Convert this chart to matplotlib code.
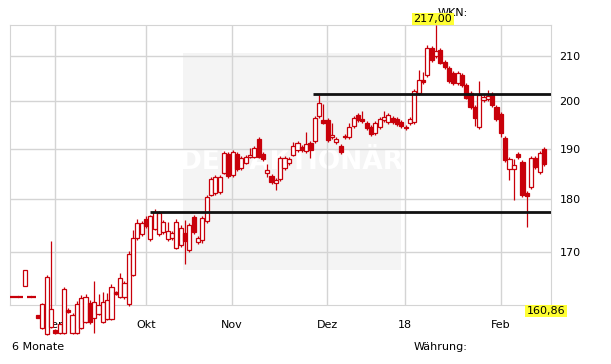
import matplotlib
matplotlib.use('Agg')

import matplotlib.pyplot as plt
from matplotlib.patches import Rectangle
from matplotlib.ticker import FixedLocator, FixedFormatter, NullLocator

RED = '#c8000a'
GRID = '#d4d4d4'

# daily candles, about six months, one entry per trading day
opens = [161.9, 161.9, 161.9, 164.0, 161.9, 161.9, 158.9, 156.7, 155.7, 156.9,
         156.3, 155.8, 155.8, 159.8, 155.8, 155.8, 156.7, 157.7, 161.0, 158.4,
         159.1, 157.7, 158.2, 158.2, 162.9, 162.0, 162.0, 160.8, 165.9, 172.6,
         173.3, 176.2, 172.4, 174.3, 173.3, 173.7, 172.4, 172.6, 170.8, 171.3,
         173.5, 170.4, 176.6, 171.9, 172.2, 175.8, 180.8, 181.1, 181.3, 185.1,
         188.9, 184.7, 188.9, 186.1, 187.1, 188.3, 188.3, 192.0, 188.9, 185.1,
         184.5, 183.1, 183.9, 186.1, 187.1, 188.7, 189.7, 190.4, 189.5, 191.2,
         191.6, 196.8, 196.0, 196.0, 192.4, 191.4, 190.6, 192.6, 192.4, 194.7,
         197.0, 196.2, 195.3, 194.5, 193.2, 194.5, 196.0, 195.5, 196.4, 196.2,
         195.5, 194.5, 195.3, 195.5, 201.7, 204.6, 205.7, 211.7, 209.9, 211.3,
         208.6, 207.2, 206.1, 203.9, 205.7, 203.5, 201.7, 198.7, 194.5, 200.2,
         200.4, 201.5, 198.7, 197.2, 192.2, 185.9, 185.9, 188.9, 187.3, 181.2,
         182.3, 188.1, 185.3, 189.9]
highs = [161.9, 161.9, 161.9, 166.8, 161.9, 161.9, 158.9, 161.0, 165.8, 172.0,
         156.5, 157.6, 163.8, 160.0, 159.2, 161.3, 162.3, 162.5, 161.4, 164.8,
         162.5, 162.9, 162.7, 164.2, 163.1, 166.2, 164.8, 170.2, 174.1, 176.2,
         175.8, 176.7, 177.0, 178.1, 177.7, 176.0, 175.6, 173.9, 176.2, 175.0,
         176.0, 175.4, 177.0, 173.0, 176.8, 180.8, 184.3, 184.7, 184.7, 189.5,
         189.3, 189.7, 189.3, 188.5, 188.7, 190.1, 190.5, 192.4, 189.3, 186.9,
         184.9, 184.1, 188.5, 188.5, 188.3, 191.4, 191.6, 190.8, 193.4, 191.6,
         196.8, 201.3, 199.4, 196.4, 195.3, 192.4, 191.0, 193.0, 195.3, 196.8,
         197.4, 197.9, 195.7, 194.9, 195.7, 196.6, 197.9, 197.4, 196.8, 196.6,
         195.9, 194.9, 196.6, 202.6, 206.8, 206.3, 212.4, 212.1, 217.0, 211.7,
         209.0, 207.6, 206.5, 206.5, 206.1, 203.9, 202.1, 199.1, 204.3, 201.3,
         202.4, 201.9, 199.1, 197.6, 192.6, 188.3, 187.9, 189.3, 187.7, 181.6,
         188.5, 188.5, 189.5, 190.3]
lows = [161.9, 161.9, 161.9, 164.0, 161.9, 161.9, 158.4, 156.5, 155.5, 156.7,
        155.7, 155.6, 155.6, 159.2, 155.6, 155.6, 156.5, 157.5, 157.4, 155.8,
        158.9, 157.5, 158.0, 158.0, 162.3, 161.8, 161.7, 160.5, 165.6, 172.3,
        173.0, 174.5, 172.0, 174.0, 173.0, 173.4, 172.1, 172.2, 170.5, 171.0,
        167.8, 170.0, 173.4, 171.5, 171.7, 175.4, 180.5, 180.7, 181.0, 184.8,
        184.1, 184.3, 185.5, 185.7, 186.8, 188.1, 188.0, 188.0, 187.5, 184.3,
        182.9, 181.7, 183.5, 185.7, 186.7, 188.4, 189.4, 189.4, 189.1, 188.1,
        191.2, 196.4, 195.0, 191.4, 192.0, 191.0, 189.0, 192.0, 192.0, 194.3,
        195.6, 195.4, 193.9, 192.6, 192.8, 194.1, 195.6, 195.1, 195.1, 194.7,
        194.3, 193.9, 194.9, 195.1, 201.3, 203.7, 205.3, 208.6, 209.5, 208.0,
        207.0, 203.9, 203.5, 203.5, 203.1, 200.3, 198.3, 194.7, 194.1, 199.8,
        200.0, 198.7, 195.8, 192.4, 187.3, 183.7, 179.8, 187.9, 180.4, 174.7,
        181.9, 185.9, 184.9, 186.5]
closes = [161.9, 161.9, 161.9, 166.8, 161.9, 161.9, 158.4, 160.8, 165.5, 159.9,
          155.8, 157.4, 163.4, 159.4, 158.9, 160.8, 161.8, 162.0, 157.7, 161.1,
          160.6, 161.1, 161.5, 163.7, 162.5, 165.3, 164.4, 169.7, 172.6, 175.4,
          175.4, 174.8, 176.7, 177.5, 177.3, 175.6, 173.9, 173.5, 175.6, 174.5,
          172.0, 175.0, 173.7, 172.6, 176.4, 180.4, 183.9, 184.3, 184.3, 189.1,
          184.5, 189.3, 185.9, 188.1, 188.3, 188.7, 190.1, 188.3, 187.9, 185.7,
          183.3, 183.7, 188.1, 188.1, 187.9, 190.6, 191.2, 189.7, 191.0, 189.7,
          196.4, 199.6, 195.3, 191.8, 192.8, 192.0, 189.3, 192.4, 194.5, 196.4,
          196.0, 195.8, 194.3, 193.0, 195.3, 196.2, 196.6, 197.0, 195.5, 195.1,
          194.7, 194.3, 196.2, 202.2, 204.6, 204.1, 211.7, 209.0, 211.0, 208.4,
          207.4, 204.3, 203.9, 206.1, 203.5, 200.7, 198.7, 196.4, 201.3, 200.9,
          201.1, 199.1, 196.2, 193.2, 187.7, 187.9, 186.7, 188.3, 180.8, 180.6,
          188.1, 186.3, 189.1, 186.9]

# month starts, in trading-day index
month_pos = [9.94, 30.98, 50.87, 72.83, 90.87, 113.06]
month_labels = ['Sep', 'Okt', 'Nov', 'Dez', '18', 'Feb']
price_ticks = [170, 180, 190, 200, 210]

# drawn support / resistance levels and the day they start
levels = [177.5, 201.5]
level_start = [31.9, 69.6]

y_low = 160.86
y_high = 217.00

fig = plt.figure(figsize=(6.11, 3.64), dpi=100)
ax = fig.add_axes([10 / 611, 59 / 364, 541 / 611, 280 / 364])

ax.set_yscale('log')
ax.set_ylim(160.6, y_high)
ax.set_xlim(-0.46, 124.6)

ax.yaxis.set_major_locator(FixedLocator(price_ticks))
ax.yaxis.set_major_formatter(FixedFormatter([str(t) for t in price_ticks]))
ax.yaxis.set_minor_locator(NullLocator())
ax.yaxis.tick_right()
ax.set_xticks(month_pos)
ax.set_xticklabels(month_labels)
ax.tick_params(axis='y', length=0, pad=6, labelsize=8)
ax.tick_params(axis='x', length=0, pad=11, labelsize=8)
ax.grid(True, color=GRID, lw=1)
ax.set_axisbelow(True)
for s in ax.spines.values():
    s.set_color(GRID)

# watermark block
ax.add_patch(Rectangle((0.32, 0.125), 0.403, 0.775, transform=ax.transAxes,
                       facecolor='#f4f4f4', edgecolor='none', zorder=0))
ax.text(0.52, 0.51, 'DER AKTIONÄR', transform=ax.transAxes, ha='center',
        va='center', fontsize=19, fontweight='bold', color='white', zorder=0.2)

w = 0.95
for i in range(len(opens)):
    o, h, l, c = opens[i], highs[i], lows[i], closes[i]
    ax.vlines(i, l, h, color=RED, lw=0.9, zorder=3, clip_on=False)
    if o == c:
        ax.hlines(o, i - w / 2 - 0.05, i + w / 2 + 0.05, color=RED, lw=1.6,
                  zorder=3, clip_on=False)
        continue
    face = 'white' if c > o else RED
    ax.add_patch(Rectangle((i - w / 2, min(o, c)), w, abs(c - o),
                           facecolor=face, edgecolor=RED, lw=0.9,
                           zorder=3, clip_on=False))

for lv, st in zip(levels, level_start):
    ax.hlines(lv, st, 124.6, color='#111111', lw=2, zorder=4)

fig.text(12 / 611, 1 - 347 / 364, '6 Monate', va='center', fontsize=8)
fig.text(414 / 611, 1 - 347 / 364, 'Währung:', va='center', fontsize=8)
fig.text(438 / 611, 1 - 13 / 364, 'WKN:', va='center', fontsize=8)
yellow = dict(boxstyle='square,pad=0.12', fc='#ffff33', ec='none')
fig.text(433 / 611, 1 - 19 / 364, f'{y_high:.2f}'.replace('.', ','),
         ha='center', va='center', fontsize=8, bbox=yellow)
fig.text(546 / 611, 1 - 311 / 364, f'{y_low:.2f}'.replace('.', ','),
         ha='center', va='center', fontsize=8, bbox=yellow)

plt.savefig('out.png', dpi=100)
